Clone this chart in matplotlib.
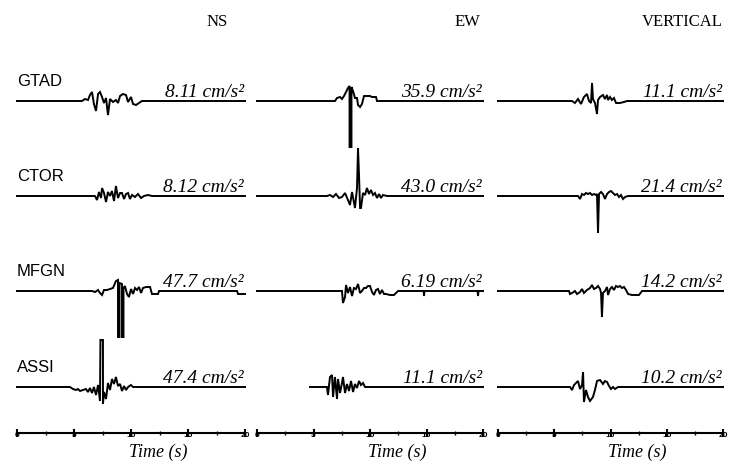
import matplotlib
matplotlib.use("Agg")
import matplotlib.pyplot as plt
from matplotlib.ticker import MultipleLocator

# stations, components and peak values
stations = ["GTAD", "CTOR", "MFGN", "ASSI"]
components = ["NS", "EW", "VERTICAL"]
peaks = [["8.11", "35.9", "11.1"],
         ["8.12", "43.0", "21.4"],
         ["47.7", "6.19", "14.2"],
         ["47.4", "11.1", "10.2"]]

# traces: time (s), amplitude (plot units)
gtad_ns_t = [0, 5.70, 5.96, 6.23, 6.40, 6.58, 6.75, 6.93, 7.11, 7.28, 7.46, 7.63, 7.81, 7.98, 8.16,
             8.42, 8.68, 8.86, 9.04, 9.30, 9.56, 9.74, 10.00, 10.18, 10.44, 10.70, 10.96, 20]
gtad_ns_a = [0, 0, 2, 1, 6, 9, -3, -10, 7, 9, 4, -2, 3, -14, 2,
             -1, 1, -2, 5, 7, 6, -1, 4, -3, -4, -2, 0, 0]
gtad_ew_t = [0, 6.90, 7.08, 7.35, 7.52, 7.70, 7.88, 8.05, 8.19, 8.19, 8.36, 8.36, 8.50, 8.67, 8.85,
             8.94, 9.12, 9.29, 9.38, 9.47, 10.00, 10.18, 10.53, 10.62, 20]
gtad_ew_a = [0, 0, 3, 4, 2, 5, 9, 13, 15, -46, -46, 14, 10, 3, 3,
             -4, -6, -3, 1, 5, 5, 4, 4, 0, 0]
gtad_v_t = [0, 6.58, 6.84, 7.11, 7.38, 7.64, 7.91, 8.09, 8.27, 8.36, 8.44, 8.62, 8.80, 8.89, 9.07,
            9.33, 9.51, 9.69, 9.78, 9.96, 10.13, 10.31, 10.49, 10.84, 11.20, 11.47, 20]
gtad_v_a = [0, 0, -2, 2, -3, 4, 7, 0, -2, 18, 2, -2, -13, 1, 4,
            6, 2, 6, 1, 4, 1, 3, -2, -2, -1, 0, 0]

ctor_ns_t = [0, 6.84, 7.02, 7.19, 7.37, 7.46, 7.63, 7.81, 7.98, 8.16, 8.33, 8.51, 8.68, 8.86, 9.04,
             9.21, 9.39, 9.56, 9.74, 9.91, 10.09, 10.35, 10.61, 10.88, 11.14, 11.49, 11.84, 20]
ctor_ns_a = [0, 0, -4, 4, -2, 8, 3, -6, 4, 0, 5, -5, 10, -2, 3,
             3, -3, 2, 3, -3, 1, -1, 2, -2, 0, 1, 0, 0]
ctor_ew_t = [0, 6.19, 6.46, 6.73, 6.99, 7.26, 7.52, 7.79, 8.05, 8.23, 8.41, 8.67, 8.85, 8.94, 9.03,
             9.12, 9.20, 9.38, 9.56, 9.73, 9.91, 10.09, 10.27, 10.44, 10.62, 10.80, 10.97, 11.15, 11.50, 20]
ctor_ew_a = [0, 0, 1, -1, 2, -2, -1, 3, -4, -9, 4, -12, 8, 48, 20,
             -12, -12, 3, 1, 8, 2, 6, 1, 3, -2, 2, -2, 1, 0, 0]
ctor_v_t = [0, 7.11, 7.29, 7.47, 7.64, 7.82, 8.00, 8.18, 8.36, 8.53, 8.71, 8.80, 8.89, 8.98, 9.16,
            9.33, 9.51, 9.69, 9.87, 10.04, 10.22, 10.40, 10.58, 10.76, 10.93, 11.11, 11.29, 11.56, 20]
ctor_v_a = [0, 0, -3, 2, 1, 3, 2, 3, 1, 2, 1, 2, -37, 2, 4,
            2, -3, 2, 4, 5, 3, 1, 2, -1, 1, -3, -1, 0, 0]

mfgn_ns_t = [0, 6.58, 6.84, 7.11, 7.28, 7.46, 7.63, 7.89, 8.16, 8.42, 8.68, 8.86, 8.86, 8.99, 8.99,
             9.21, 9.21, 9.34, 9.34, 9.47, 9.65, 9.82, 10.00, 10.18, 10.35, 10.53, 10.70, 10.88, 11.05,
             11.32, 11.67, 11.84, 12.37, 12.46, 19.30, 19.39, 20]
mfgn_ns_a = [0, 0, -1, 1, -2, -4, 1, 1, 2, 3, 10, 11, -46, -46, 8,
             7, -46, -46, 3, 5, -3, -6, 2, -3, 3, 1, 4, -2, 3,
             4, 4, -3, -3, 0, 0, -3, -3]
mfgn_ew_t = [0, 7.52, 7.61, 7.79, 7.88, 8.05, 8.23, 8.41, 8.58, 8.76, 8.94, 9.12, 9.29, 9.47, 9.65,
             9.82, 10.00, 10.18, 10.35, 10.53, 10.71, 10.88, 11.06, 11.24, 11.42, 11.77, 12.12, 12.48,
             14.75, 14.78, 14.82, 19.52, 19.56, 19.60, 20]
mfgn_ew_a = [0, 0, -12, -6, 6, -2, 4, -5, 3, 2, 7, -2, 0, 3, 3,
             5, 5, -1, -4, 1, 2, -3, 1, -3, -3, -4, -4, 0,
             0, -5, 0, 0, -5, 0, 0]
mfgn_v_t = [0, 6.31, 6.40, 6.58, 6.84, 7.02, 7.29, 7.47, 7.64, 7.91, 8.18, 8.36, 8.53, 8.71, 8.89,
            9.07, 9.16, 9.24, 9.33, 9.51, 9.69, 9.78, 9.96, 10.13, 10.31, 10.49, 10.67, 10.84, 11.02,
            11.20, 11.38, 11.56, 11.91, 12.53, 12.80, 20]
mfgn_v_a = [0, 0, -3, -2, 0, -3, -1, 2, -2, 1, 3, 6, 2, 3, 5,
            2, -2, -26, -2, 0, 4, -4, 2, 4, 1, 5, 4, 5, 3,
            4, 1, -3, -4, -4, 0, 0]

assi_ns_t = [0, 4.65, 4.91, 5.18, 5.35, 5.53, 5.79, 6.05, 6.23, 6.40, 6.58, 6.75, 6.93, 7.11, 7.28,
             7.32, 7.54, 7.54, 7.63, 7.81, 7.98, 8.16, 8.33, 8.51, 8.68, 8.86, 9.04, 9.21, 9.39,
             9.56, 9.74, 10.00, 10.18, 20]
assi_ns_a = [0, 0, -2, -3, -2, -4, -3, -2, -5, -1, -6, 0, -8, 2, -14,
             47, 47, -17, -5, -12, 4, -3, 8, 3, 10, 1, 3, -4, 1,
             -3, 0, 2, 0, 0]
assi_ew_t = [4.69, 6.19, 6.28, 6.46, 6.64, 6.73, 6.90, 7.08, 7.17, 7.35, 7.52, 7.61, 7.79, 7.96, 8.14,
             8.32, 8.50, 8.67, 8.85, 9.03, 9.20, 9.38, 9.56, 20]
assi_ew_a = [0, 0, -8, 10, 12, -10, 10, -12, 8, -6, 4, 10, -6, 3, -4,
             6, -5, 3, -1, 6, 2, 4, 0, 0]
assi_v_t = [0, 6.40, 6.58, 6.76, 6.93, 7.11, 7.29, 7.47, 7.56, 7.64, 7.82, 8.00, 8.18, 8.44, 8.62,
            8.80, 9.07, 9.33, 9.51, 9.69, 9.87, 10.04, 10.22, 10.40, 10.67, 20]
assi_v_a = [0, 0, -3, 2, 4, 6, -2, 2, 15, -15, -3, -10, -14, -10, -3,
            6, 7, 3, 6, 5, 1, -2, 0, -2, 0, 0]

tick_times = [0, 5, 10, 15, 20]
row_offsets = [0, -95, -190, -286]

traces = [[(gtad_ns_t, gtad_ns_a), (gtad_ew_t, gtad_ew_a), (gtad_v_t, gtad_v_a)],
          [(ctor_ns_t, ctor_ns_a), (ctor_ew_t, ctor_ew_a), (ctor_v_t, ctor_v_a)],
          [(mfgn_ns_t, mfgn_ns_a), (mfgn_ew_t, mfgn_ew_a), (mfgn_v_t, mfgn_v_a)],
          [(assi_ns_t, assi_ns_a), (assi_ew_t, assi_ew_a), (assi_v_t, assi_v_a)]]

serif = "Liberation Serif"
sans = "Liberation Sans"

fig = plt.figure(figsize=(7.34, 4.63), dpi=100)
fig.patch.set_facecolor("white")

W, H = 734.0, 463.0
col_px = [(17, 228), (257, 226), (498, 225)]
title_x = [228, 480, 723]

for c, (x0, w) in enumerate(col_px):
    ax = fig.add_axes([x0 / W, 30 / H, w / W, 392 / H])
    ax.set_xlim(0, 20)
    ax.set_ylim(-332, 60)
    for r in range(len(stations)):
        t, a = traces[r][c]
        off = row_offsets[r]
        ax.plot(t, [v + off for v in a], color="black", lw=1.4, clip_on=False,
                solid_joinstyle="miter")
        ax.text(19.9, off + 4, peaks[r][c] + " cm/s\u00b2", ha="right", va="baseline",
                fontsize=14, family=serif, style="italic")
        if c == 0:
            ax.text(0, off + 15, stations[r], ha="left", va="baseline",
                    fontsize=12, family=sans)

    for s in ["top", "left", "right"]:
        ax.spines[s].set_visible(False)
    ax.spines["bottom"].set_linewidth(1.5)
    ax.set_yticks([])
    ax.set_xticks(tick_times)
    ax.xaxis.set_minor_locator(MultipleLocator(2.5))
    ax.tick_params(axis="x", which="major", direction="inout", length=6, width=1.5,
                   pad=-4, labelsize=6)
    ax.tick_params(axis="x", which="minor", direction="inout", length=3, width=1.0)
    for lab in ax.get_xticklabels():
        lab.set_fontweight("bold")
        lab.set_family(sans)
    ax.set_xlabel("Time (s)", fontsize=13, family=serif, style="italic")
    ax.xaxis.set_label_coords(0.62, -0.028)
    ax.xaxis.label.set_va("top")
    ax.patch.set_visible(False)

    fig.text(title_x[c] / W, 1 - 22 / H, components[c], ha="right", va="center",
             fontsize=12, family=serif)

fig.savefig("out.png", dpi=100, facecolor="white")
